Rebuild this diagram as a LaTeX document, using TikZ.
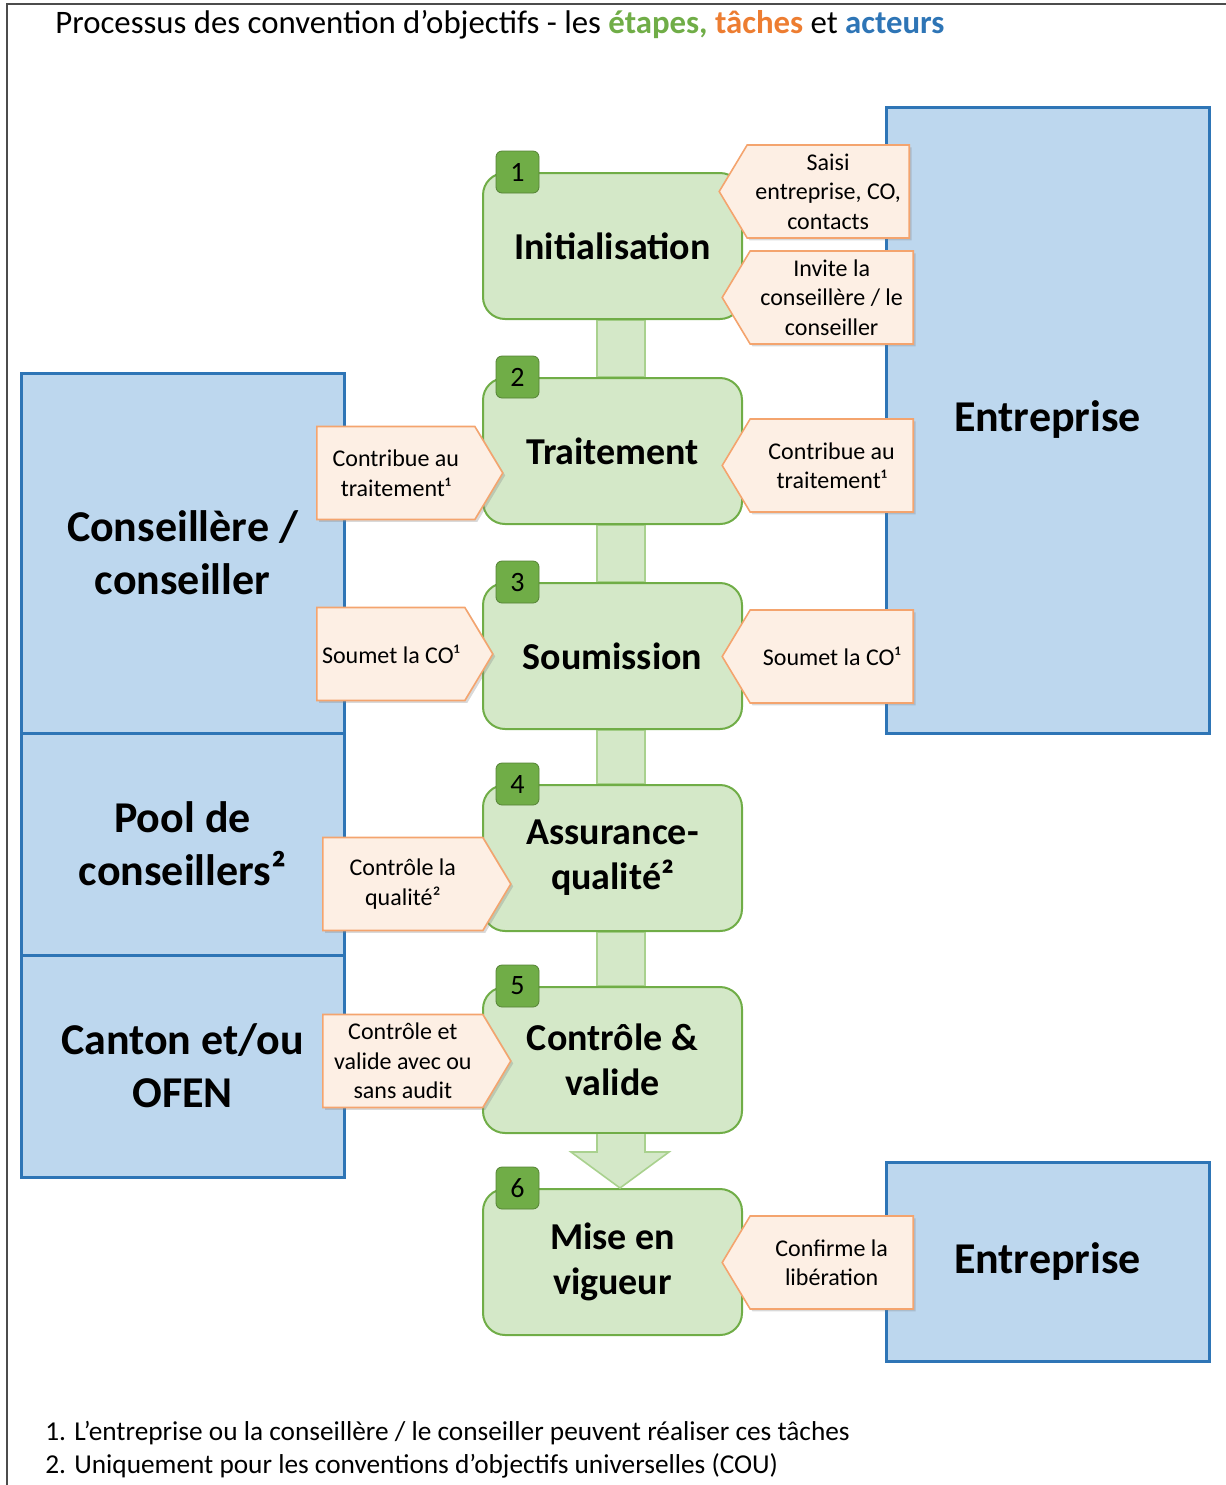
\documentclass[tikz,border=0pt]{standalone}
\usepackage{fontspec}
\setmainfont{Carlito}
\usepackage{xcolor}
\usetikzlibrary{positioning}
\usetikzlibrary{shapes.symbols}
\usetikzlibrary{shadows}
\usetikzlibrary{backgrounds}

\definecolor{actfill}{HTML}{BDD7EE}
\definecolor{actline}{HTML}{2E75B6}
\definecolor{stepfill}{HTML}{D4E8C8}
\definecolor{stepline}{HTML}{70AD47}
\definecolor{linkline}{HTML}{A9D18E}
\definecolor{taskfill}{HTML}{FDEFE4}
\definecolor{taskline}{HTML}{F4A46E}
\definecolor{titleorange}{HTML}{ED7D31}

\newcommand{\etape}[1]{\textcolor{stepline}{\bfseries #1}}
\newcommand{\tache}[1]{\textcolor{titleorange}{\bfseries #1}}
\newcommand{\acteur}[1]{\textcolor{actline}{\bfseries #1}}

\tikzset{
  actor/.style={draw=actline, fill=actfill, line width=1.5pt, inner sep=0pt,
    align=center, font=\fontsize{22}{26.5}\selectfont\bfseries},
  stepbox/.style={draw=stepline, fill=stepfill, line width=1pt,
    rounded corners=11pt, minimum width=129.5pt, minimum height=73pt,
    align=center, font=\fontsize{19}{22.5}\selectfont\bfseries},
  badge/.style={draw=stepline!75!black, fill=stepline, rounded corners=3pt,
    minimum width=21.5pt, minimum height=21pt, inner sep=0pt,
    font=\fontsize{14}{16}\selectfont},
  task/.style={signal, draw=taskline, fill=taskfill, line width=0.8pt,
    signal pointer angle=118, minimum height=46.5pt, inner sep=2pt,
    align=center, font=\fontsize{12}{14.75}\selectfont,
    drop shadow={shadow xshift=1.2pt, shadow yshift=-1.2pt, opacity=0.3}},
  taskw/.style={task, signal to=west, anchor=east},
  taske/.style={task, signal to=east, anchor=west},
  link/.style={draw=linkline, fill=stepfill, line width=0.8pt}
}

\begin{document}
\begin{tikzpicture}[x=0.5pt, y=-0.5pt]

      \useasboundingbox (0, 0) rectangle (1226, 1485);

      % page frame and title
      \draw [black!70, line width=1pt] (7, 1485) -- (7, 4) -- (1226, 4);
      \node [anchor=base west, inner sep=0pt, font=\fontsize{16.4}{19}\selectfont]
      (title) at (55, 33)
      {Processus des convention d’objectifs - les \etape{étapes,} \tache{tâches} et \acteur{acteurs}};

      % actors
      \node [actor, minimum width=161.5pt, minimum height=313pt]
      (ent) at (1047.5, 420) {Entreprise};
      \node [actor, minimum width=161.5pt, minimum height=99.5pt]
      (entb) at (1047.5, 1261.5) {Entreprise};
      \node [actor, minimum width=161.5pt, minimum height=180pt]
      (cons) at (182.5, 553) {Conseillère /\\conseiller};
      \node [actor, minimum width=161.5pt, minimum height=111pt]
      (pool) at (182.5, 844) {Pool de\\conseillers²};
      \node [actor, minimum width=161.5pt, minimum height=111pt]
      (canton) at (182.5, 1066) {Canton et/ou\\OFEN};

      % steps
      \node [stepbox] (s1) at (612.5, 246) {Initialisation};
      \node [stepbox] (s2) at (612.5, 451) {Traitement};
      \node [stepbox] (s3) at (612.5, 656) {Soumission};
      \node [stepbox] (s4) at (612.5, 858) {Assurance-\\qualité²};
      \node [stepbox] (s5) at (612.5, 1060) {Contrôle \&\\valide};
      \node [stepbox] (s6) at (612.5, 1262) {Mise en\\vigueur};

      \foreach \i in {1,...,6}
      \node [badge] (b\i) at ([xshift=17.75pt]s\i.north west) {\i};

      % links between steps
      \coordinate (bl) at (597, 0);
      \coordinate (br) at (645, 0);
      \begin{scope}[on background layer]
      \foreach \i/\j in {1/2, 2/3, 3/4, 4/5}
      \draw [link] (bl |- s\i.south) rectangle (br |- s\j.north);
      \end{scope}
      \draw [link] (bl |- s5.south) -- (597, 1152) -- (571, 1152)
      -- (620, 1188) -- (669, 1152) -- (645, 1152) -- (br |- s5.south);

      % tasks
      \node [taskw, minimum width=95pt] (t1) at (910, 191.5)
      {Saisi\\entreprise, CO,\\contacts};
      \node [taskw, minimum width=95.5pt] (t2) at (914, 297.5)
      {Invite la\\conseillère / le\\conseiller};
      \node [taskw, minimum width=95.5pt] (t3) at (914, 465.5)
      {Contribue au\\traitement¹};
      \node [taskw, minimum width=95.5pt] (t4) at (914, 656.5)
      {Soumet la CO¹};
      \node [taskw, minimum width=95.5pt] (t5) at (914, 1262.5)
      {Confirme la\\libération};

      \node [taske, minimum width=93pt] (c1) at (316, 473)
      {Contribue au\\traitement¹};
      \node [taske, minimum width=88pt] (c2) at (316, 654)
      {Soumet la CO¹};
      \node [taske, minimum width=94pt] (c3) at (322, 884)
      {Contrôle la\\qualité²};
      \node [taske, minimum width=94pt] (c4) at (322, 1061)
      {Contrôle et\\valide avec ou\\sans audit};

      % notes
      \node [anchor=base west, inner sep=0pt, font=\fontsize{13.65}{16}\selectfont]
      (note1) at (45, 1440)
      {1. L’entreprise ou la conseillère / le conseiller peuvent réaliser ces tâches};
      \node [anchor=base west, inner sep=0pt, font=\fontsize{13.65}{16}\selectfont]
      (note2) at (45, 1473)
      {2. Uniquement pour les conventions d’objectifs universelles (COU)};

    \end{tikzpicture}
\end{document}
